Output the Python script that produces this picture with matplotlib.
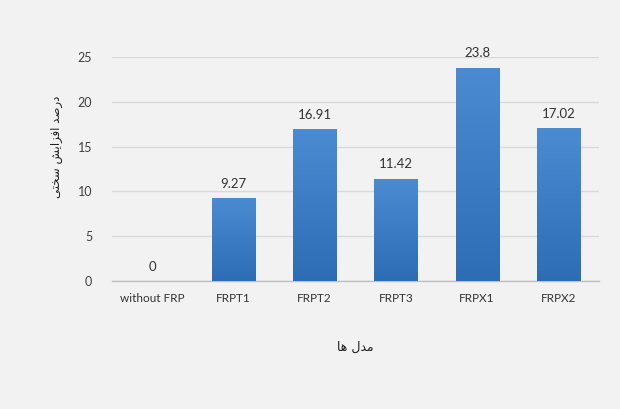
import matplotlib
matplotlib.use("Agg")
import matplotlib.pyplot as plt
import numpy as np
from matplotlib.colors import LinearSegmentedColormap

categories = ["without FRP", "FRPT1", "FRPT2", "FRPT3", "FRPX1", "FRPX2"]
values = [0, 9.27, 16.91, 11.42, 23.8, 17.02]
value_labels = ["0", "9.27", "16.91", "11.42", "23.8", "17.02"]
yticks = [0, 5, 10, 15, 20, 25]

# Persian labels, pre-shaped (presentation forms, visual order)
ylabel_text = "\uFEF0\uFE98\uFEA8\uFEB3 \uFEB6\uFEF3\uFE8D\uFEB0\uFED3\uFE8D \uFEAA\uFEBB\uFEAD\uFEA9"
xlabel_text = "\uFE8E\uFEEB \uFEDD\uFEAA\uFEE3"

bg = "#f2f2f2"
fig = plt.figure(figsize=(6.2, 4.09), dpi=100, facecolor=bg)
ax = fig.add_axes([0.18, 0.313, 0.786, 0.548], facecolor=bg)

x = np.arange(len(categories))
bars = ax.bar(x, values, width=0.53, color="#3a7cc6", zorder=3)

# vertical gradient inside each bar
grad = np.linspace(0, 1, 256).reshape(-1, 1)
cmap = LinearSegmentedColormap.from_list("g", ["#2c6db6", "#4a8bd2"])
for b in bars:
    h = b.get_height()
    if h <= 0:
        continue
    im = ax.imshow(grad, extent=[b.get_x(), b.get_x() + b.get_width(), 0, h],
                   origin="lower", aspect="auto", cmap=cmap, zorder=3.5)
    im.set_clip_path(b)

ax.set_xlim(-0.5, len(categories) - 0.5)
ax.set_ylim(0, 25)
ax.set_yticks(yticks)
ax.set_xticks(x)
ax.set_xticklabels(categories, fontsize=8.5, color="#333333", family=["Lato", "DejaVu Sans"])
ax.set_yticklabels([str(t) for t in yticks], fontsize=9, color="#404040", family=["Lato", "DejaVu Sans"])
ax.tick_params(axis="both", length=0)
ax.tick_params(axis="x", pad=9)
ax.tick_params(axis="y", pad=14)
ax.grid(axis="y", color="#d9d9d9", linewidth=1, zorder=0)
for s in ["top", "right", "left"]:
    ax.spines[s].set_visible(False)
ax.spines["bottom"].set_color("#bfbfbf")
ax.spines["bottom"].set_linewidth(1)

for xi, v, lab in zip(x, values, value_labels):
    ax.annotate(lab, (xi, v), xytext=(0, 6), textcoords="offset points",
                ha="center", va="bottom", fontsize=9.5, color="#333333",
                family=["Lato", "DejaVu Sans"])

ax.set_ylabel(ylabel_text, fontsize=8.5, color="#222222", family=["DejaVu Sans"])
ax.yaxis.set_label_coords(-0.10, 0.6)
ax.set_xlabel(xlabel_text, fontsize=9, color="#222222", family=["DejaVu Sans"], labelpad=26)

fig.savefig("out.png", dpi=100, facecolor=bg)
